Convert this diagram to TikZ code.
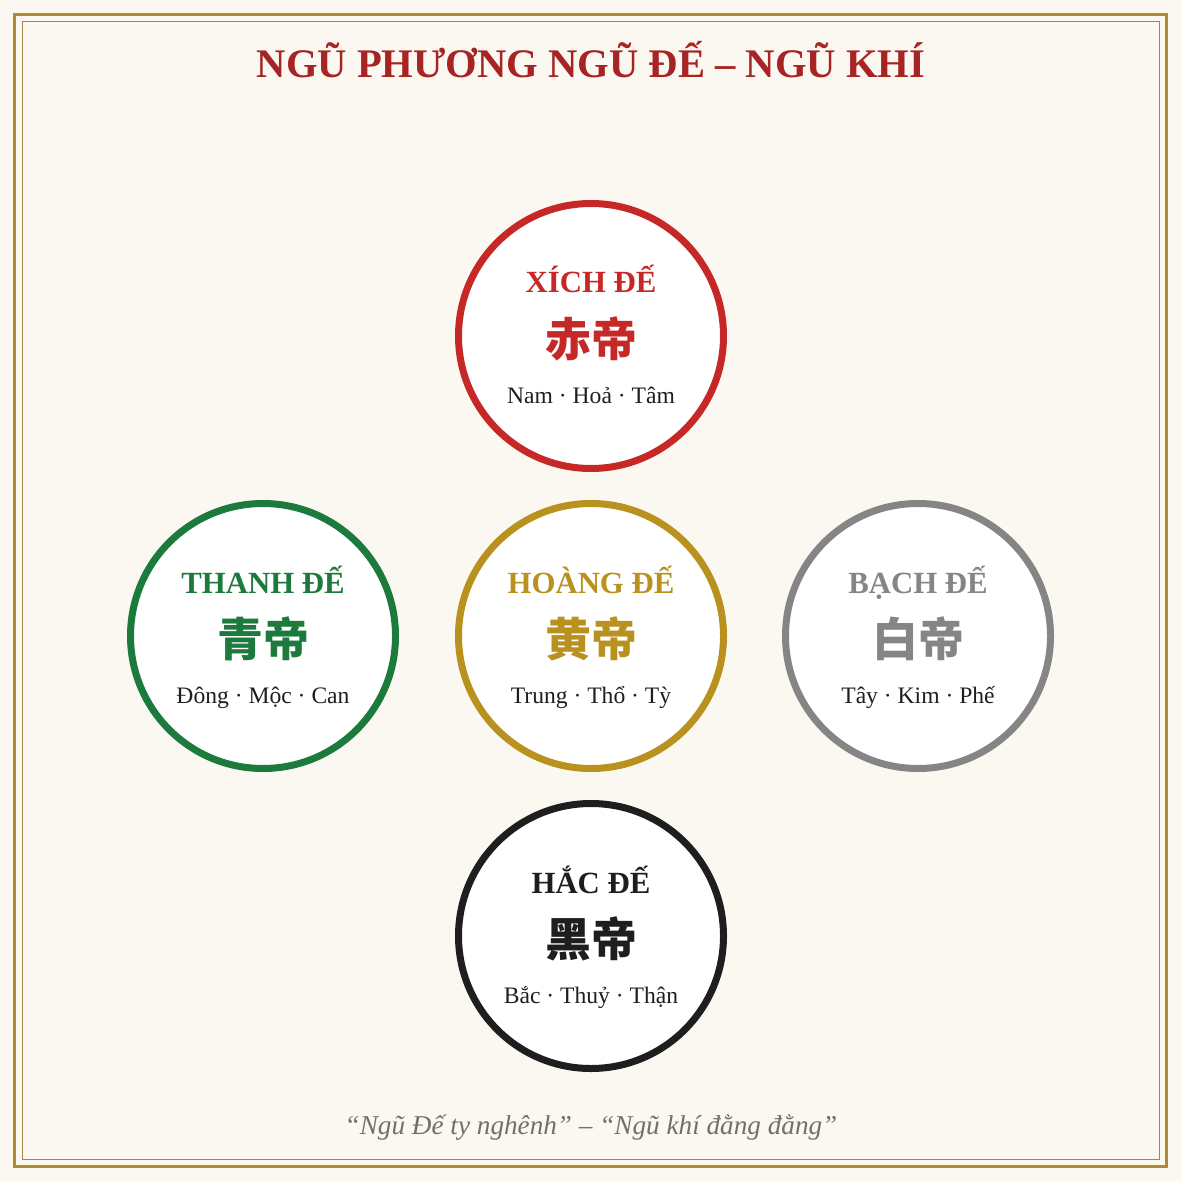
\documentclass[tikz,border=0pt]{standalone}
\usepackage{fontspec}
\setmainfont{Liberation Serif}
\newfontfamily\cjk{Noto Sans CJK SC}
\definecolor{paper}{HTML}{FBF8F1}
\definecolor{frame}{HTML}{B08A30}
\definecolor{titlered}{HTML}{A82424}
\definecolor{xichred}{HTML}{C62828}
\definecolor{thanhgreen}{HTML}{1B7A3C}
\definecolor{hoanggold}{HTML}{B8911E}
\definecolor{bachgray}{HTML}{858585}
\definecolor{hacblack}{HTML}{1E1E1E}
\definecolor{quotegray}{HTML}{756F66}
\begin{document}
\begin{tikzpicture}[x=0.5pt,y=-0.5pt,
    ring/.style={draw=#1, circle, line width=3.5pt, fill=white, minimum size=132.5pt, inner sep=0pt},
    dename/.style={anchor=base, text=#1, font=\bfseries\fontsize{15.4}{17}\selectfont, inner sep=0pt},
    hanzi/.style={text=#1, font=\cjk\bfseries\fontsize{23}{25}\selectfont, inner sep=0pt},
    aspect/.style={anchor=base, text=hacblack, font=\fontsize{11.8}{13}\selectfont, inner sep=0pt}]
    % paper and frame
    \fill[paper] (0,0) rectangle (1181,1181);
    \draw[frame, line width=1.6pt] (14.5,14.5) rectangle (1166.5,1166.5);
    \draw[frame!80!gray, line width=0.5pt] (22,22) rectangle (1159,1159);
    \node[anchor=base, text=titlered, font=\bfseries\fontsize{20.3}{23}\selectfont, inner sep=0pt] (title) at (591,78) {NGŨ PHƯƠNG NGŨ ĐẾ – NGŨ KHÍ};

    % south (top)
    \node[ring=xichred] (xich) at (591,336) {};
        \node[dename=xichred] (xichname) at (591,293) {XÍCH ĐẾ};
        \node[hanzi=xichred] (xichhan) at (591,339) {赤帝};
        \node[aspect] (xichsub) at (591,403) {Nam · Hoả · Tâm};
    % east (left)
    \node[ring=thanhgreen] (thanh) at (263,636) {};
        \node[dename=thanhgreen] (thanhname) at (263,593) {THANH ĐẾ};
        \node[hanzi=thanhgreen] (thanhhan) at (263,639) {青帝};
        \node[aspect] (thanhsub) at (263,703) {Đông · Mộc · Can};
    % centre
    \node[ring=hoanggold] (hoang) at (591,636) {};
        \node[dename=hoanggold] (hoangname) at (591,593) {HOÀNG ĐẾ};
        \node[hanzi=hoanggold] (hoanghan) at (591,639) {黄帝};
        \node[aspect] (hoangsub) at (591,703) {Trung · Thổ · Tỳ};
    % west (right)
    \node[ring=bachgray] (bach) at (918,636) {};
        \node[dename=bachgray] (bachname) at (918,593) {BẠCH ĐẾ};
        \node[hanzi=bachgray] (bachhan) at (918,639) {白帝};
        \node[aspect] (bachsub) at (918,703) {Tây · Kim · Phế};
    % north (bottom)
    \node[ring=hacblack] (hac) at (591,936) {};
        \node[dename=hacblack] (hacname) at (591,893) {HẮC ĐẾ};
        \node[hanzi=hacblack] (hachan) at (591,939) {黑帝};
        \node[aspect] (hacsub) at (591,1003) {Bắc · Thuỷ · Thận};

    \node[anchor=base, text=quotegray, font=\itshape\fontsize{13.6}{15}\selectfont, inner sep=0pt] (quote) at (591,1134) {“Ngũ Đế ty nghênh” – “Ngũ khí đằng đằng”};
\end{tikzpicture}
\end{document}
